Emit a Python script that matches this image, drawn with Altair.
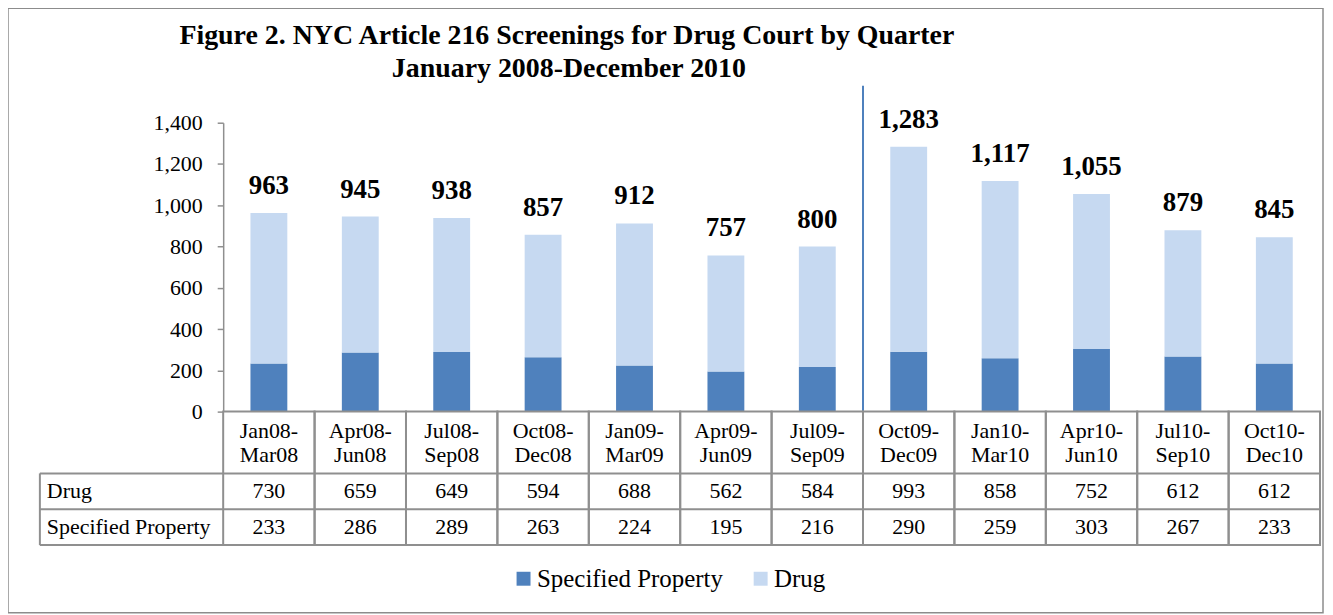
import altair as alt
import pandas as pd

# ---------------- data ----------------
quarters = ["Jan08-Mar08", "Apr08-Jun08", "Jul08-Sep08", "Oct08-Dec08",
            "Jan09-Mar09", "Apr09-Jun09", "Jul09-Sep09", "Oct09-Dec09",
            "Jan10-Mar10", "Apr10-Jun10", "Jul10-Sep10", "Oct10-Dec10"]
drug = [730, 659, 649, 594, 688, 562, 584, 993, 858, 752, 612, 612]
spec_prop = [233, 286, 289, 263, 224, 195, 216, 290, 259, 303, 267, 233]
series_names = ["Specified Property", "Drug"]
series_colors = ["#4F81BD", "#C6D9F1"]
y_ticks = [0, 200, 400, 600, 800, 1000, 1200, 1400]
title_lines = ["Figure 2. NYC Article 216 Screenings for Drug Court by Quarter",
               "January 2008-December 2010"]
row_labels = ["Drug", "Specified Property"]
separator_before = ["Oct09-Dec09"]

FONT = "Liberation Serif"
W, H = 1101, 290
GRID = "#8f8f8f"

# ---------------- tables built from the arrays ----------------
long_rows = []
for q, d, s in zip(quarters, drug, spec_prop):
    long_rows.append({"quarter": q, "series": series_names[0], "value": s, "ord": 0})
    long_rows.append({"quarter": q, "series": series_names[1], "value": d, "ord": 1})
long_df = pd.DataFrame(long_rows)

wide_df = pd.DataFrame({
    "quarter": quarters,
    "drug": drug,
    "spec": spec_prop,
    "head1": [q.split("-")[0] + "-" for q in quarters],
    "head2": [q.split("-")[1] for q in quarters],
})
wide_df["total"] = wide_df["drug"] + wide_df["spec"]

one = pd.DataFrame({"k": [0]})

xs = alt.Scale(domain=quarters, paddingInner=0, paddingOuter=0)
X = alt.X("quarter:N", scale=xs, axis=None, title=None)
ys = alt.Scale(domain=[0, 1400], nice=False)
Y_AXIS = alt.Axis(values=y_ticks, format=",.0f", grid=False, tickSize=6,
                  labelPadding=15, labelFont=FONT, labelFontSize=22,
                  labelColor="black", domainColor=GRID, tickColor=GRID,
                  domainWidth=1.5, tickWidth=1.5, title=None)

# ---------------- layers ----------------
frame = alt.Chart(one).mark_rect(fillOpacity=0, stroke="#8c8c8c", strokeWidth=1.5).encode(
    x=alt.value(-216), x2=alt.value(1104), y=alt.value(-115), y2=alt.value(492))

bars = alt.Chart(long_df).mark_bar(size=37).encode(
    x=X,
    y=alt.Y("value:Q", stack="zero", title=None, scale=ys, axis=Y_AXIS),
    color=alt.Color("series:N", title=None,
                    scale=alt.Scale(domain=series_names, range=series_colors),
                    legend=alt.Legend(orient="none", legendX=289, legendY=445,
                                      direction="horizontal", symbolType="square",
                                      symbolSize=196, symbolStrokeWidth=0,
                                      labelFont=FONT, labelFontSize=25,
                                      labelColor="black", columnPadding=25,
                                      labelOffset=1, labelLimit=400)),
    order=alt.Order("ord:Q"),
)

totals = alt.Chart(wide_df).mark_text(
    font=FONT, fontSize=27, fontWeight="bold", baseline="alphabetic", dy=-19, color="black"
).encode(x=X, y=alt.Y("total:Q", title=None, scale=ys, axis=Y_AXIS),
         text=alt.Text("total:Q", format=","))

separator = alt.Chart(pd.DataFrame({"quarter": separator_before})).mark_rule(
    color="#4F81BD", strokeWidth=2
).encode(x=alt.X("quarter:N", scale=xs, axis=None, bandPosition=0),
         y=alt.value(-37), y2=alt.value(291))

title1 = alt.Chart(pd.DataFrame({"t": [title_lines[0]]})).mark_text(
    font=FONT, fontSize=28, fontWeight="bold", align="center", baseline="middle", color="black"
).encode(x=alt.value(345), y=alt.value(-87), text="t:N")
title2 = alt.Chart(pd.DataFrame({"t": [title_lines[1]]})).mark_text(
    font=FONT, fontSize=28, fontWeight="bold", align="center", baseline="middle", color="black"
).encode(x=alt.value(347), y=alt.value(-54), text="t:N")

# table column cells
cols = alt.Chart(wide_df).mark_rect(fillOpacity=0, stroke=GRID, strokeWidth=2).encode(
    x=X, y=alt.value(290), y2=alt.value(424))

line_layers = []
for yy in (352, 388, 424):
    line_layers.append(alt.Chart(one).mark_rule(color=GRID, strokeWidth=2).encode(
        x=alt.value(-184), x2=alt.value(W), y=alt.value(yy)))
vline = alt.Chart(one).mark_rule(color=GRID, strokeWidth=2).encode(
    x=alt.value(-184), y=alt.value(352), y2=alt.value(424))

txt = dict(font=FONT, fontSize=22, color="black", baseline="middle")
head1 = alt.Chart(wide_df).mark_text(**txt).encode(x=X, y=alt.value(309), text="head1:N")
head2 = alt.Chart(wide_df).mark_text(**txt).encode(x=X, y=alt.value(334), text="head2:N")
drug_row = alt.Chart(wide_df).mark_text(**txt).encode(x=X, y=alt.value(370), text="drug:Q")
spec_row = alt.Chart(wide_df).mark_text(**txt).encode(x=X, y=alt.value(406), text="spec:Q")

lab1 = alt.Chart(pd.DataFrame({"t": [row_labels[0]]})).mark_text(align="left", **txt).encode(
    x=alt.value(-177), y=alt.value(370), text="t:N")
lab2 = alt.Chart(pd.DataFrame({"t": [row_labels[1]]})).mark_text(align="left", **txt).encode(
    x=alt.value(-177), y=alt.value(406), text="t:N")

chart = alt.layer(
    frame, bars, totals, separator, title1, title2, cols, *line_layers, vline,
    head1, head2, drug_row, spec_row, lab1, lab2
).properties(
    width=W, height=H,
    autosize=alt.AutoSizeParams(type="none"),
    padding={"left": 216, "top": 114, "right": 5, "bottom": 203},
).configure_view(stroke=None)

chart.save("out.html", embed_options={"renderer": "svg", "actions": False})
